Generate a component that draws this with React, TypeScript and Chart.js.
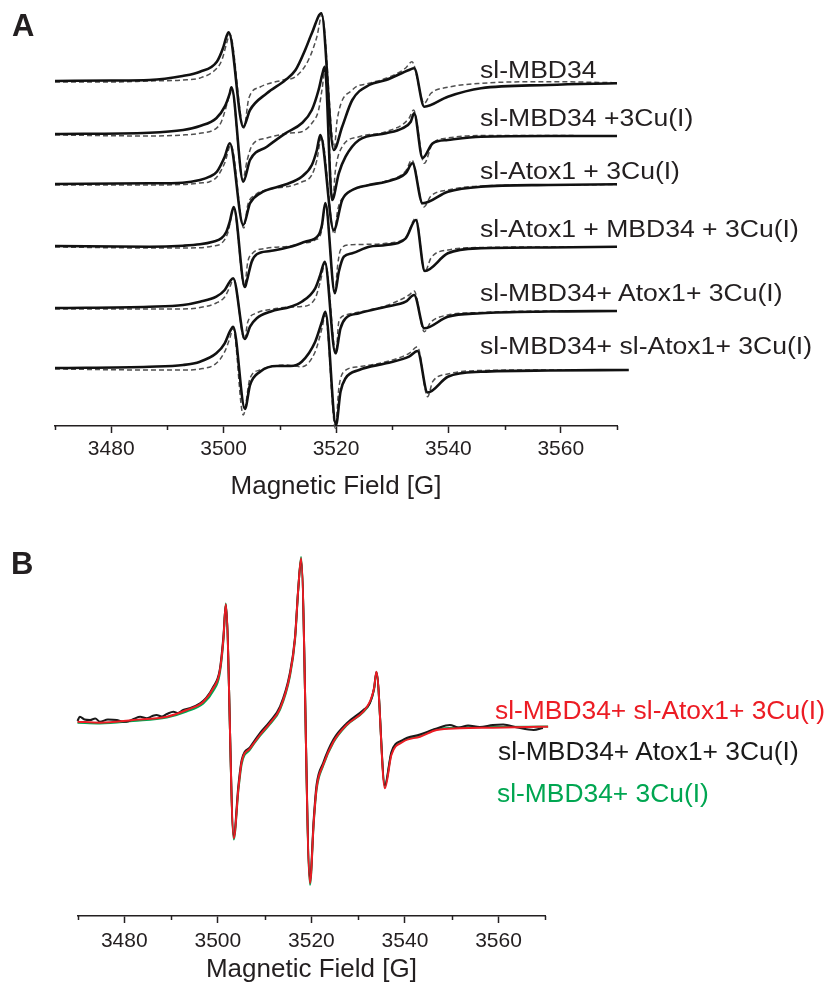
import React, { useEffect, useRef } from 'react';
import { Chart, registerables } from 'chart.js';

Chart.register(...registerables);

const FONT = "'Liberation Sans', Arial, Helvetica, sans-serif";
const INK = '#231f20';

// ---- shared field axis ----
const FIELD_MIN = 3470;
const FIELD_MAX = 3570;
const FIELD_STEP = 10;
const FIELD_LABEL_STEP = 20;
const AXIS_TITLE = 'Magnetic Field [G]';

// ---- Panel A: six stacked spectra (solid = experiment, dashed = simulation) ----
const A_LABELS = [
  'sl-MBD34',
  'sl-MBD34 +3Cu(I)',
  'sl-Atox1 + 3Cu(I)',
  'sl-Atox1 + MBD34 + 3Cu(I)',
  'sl-MBD34+ Atox1+ 3Cu(I)',
  'sl-MBD34+ sl-Atox1+ 3Cu(I)',
];
const A_OFFSETS = [345, 292, 242, 180, 118, 58];

const A1_EXP = [[3470,0],[3480,0.5],[3486.8,1],[3492.7,5],[3495.8,9.3],[3498.8,19.3],[3499.9,33],[3500.5,44.3],[3500.9,48.7],[3503.5,-45.7],[3504.7,-29],[3507.7,-12.3],[3511.0,1],[3512.8,11],[3514.5,31],[3515.7,47.7],[3517.4,67.7],[3519.6,-69],[3521.1,-45.7],[3522.9,-19],[3525.9,-4],[3528.9,1],[3533.0,11],[3533.9,12.7],[3535.7,-25.7],[3539.9,-15.7],[3545.8,-7.3],[3557.8,-4],[3570,-2.3]];
const A1_SIM = [[3470,-1],[3480,-1],[3486.8,0],[3492.7,1],[3495.8,3],[3498.8,12.7],[3499.7,21],[3500.6,39],[3501.1,47],[3503.6,-47],[3504.5,-17],[3506.5,-6],[3510.6,1],[3512.8,4.3],[3515.1,21],[3516.6,44.3],[3517.5,66],[3519.7,-67],[3520.2,-39],[3522.9,-9],[3525.9,-2.3],[3528.9,2.7],[3532.4,13],[3533.5,19.3],[3535.7,-22.3],[3536.9,-12.3],[3539.9,-6.3],[3545.8,-2.3],[3557.8,-0.7],[3570,-1.7]];

const A2_EXP = [[3470,0],[3486.8,1.3],[3492.8,4],[3495.8,8],[3498.7,15.7],[3500.2,27.3],[3501.1,40.7],[3501.4,46.7],[3503.5,-47.7],[3504.7,-26],[3507.7,-12.7],[3511.0,0.7],[3513.9,10.7],[3515.7,24],[3516.9,44],[3517.6,60.7],[3518.0,67.3],[3519.3,-66],[3520.5,-39.3],[3521.7,-22.7],[3524.1,-6],[3528.9,0.7],[3531.8,5.7],[3533.3,12.3],[3533.9,20.7],[3535.4,-24],[3537.2,-9.3],[3539.9,-6],[3545.8,-2.7],[3557.8,-2],[3570,-2]];
const A2_SIM = [[3470,-1],[3486.8,-2],[3492.7,-1],[3495.8,0.7],[3498.7,5.7],[3499.6,12.3],[3500.8,34],[3501.4,46],[3503.4,-46],[3504.2,-26],[3505.1,-11],[3507.7,-4],[3511.9,1],[3513.9,2.3],[3515.7,10.7],[3516.9,24],[3517.5,44],[3518.1,65.7],[3519.4,-66],[3519.9,-36],[3521.1,-12.7],[3524.1,-2.7],[3528.9,2.3],[3533.0,15.7],[3533.8,24],[3535.7,-29.3],[3537.2,-9.3],[3539.9,-4],[3545.8,-1.5],[3557.8,-1.5],[3570,-2]];

const A3_EXP = [[3470,0],[3486.8,0.7],[3492.7,1.3],[3495.8,4],[3497.5,7.3],[3498.8,12.3],[3500.2,27.3],[3501.1,40.7],[3503.5,-41],[3504.7,-19.3],[3506.5,-9.3],[3511.0,-0.5],[3513.9,7.3],[3515.7,19],[3516.6,34],[3517.2,49],[3519.6,-46],[3521.1,-16],[3522.9,-6],[3525.9,-1],[3528.9,2.3],[3532.4,10.7],[3533.6,20.7],[3535.4,-19.3],[3539.9,-7.7],[3545.8,-2.7],[3557.8,-1],[3570,-0.3]];
const A3_SIM = [[3470,-1],[3486.8,-1],[3492.7,-0.5],[3495.8,1],[3497.5,2.3],[3498.8,7],[3500.2,21],[3501.3,39],[3503.6,-44],[3504.3,-21],[3505.6,-11],[3508.3,-5],[3511.9,-2],[3513.9,2],[3515.7,9],[3516.6,24],[3517.4,47],[3519.7,-50],[3520.3,-26],[3521.7,-11],[3524.4,-3],[3528.9,3],[3532.4,13],[3533.5,24],[3535.6,-23],[3536.9,-12],[3539.9,-6],[3545.8,-2],[3557.8,-1],[3570,-0.5]];

const A4_EXP = [[3470,0],[3486.8,-0.7],[3492.8,0.3],[3495.8,1.7],[3498.1,4.3],[3499.6,7.7],[3500.5,14.3],[3501.1,24.3],[3501.8,39],[3503.8,-41],[3504.1,-35.7],[3505.0,-15.7],[3505.9,-8.3],[3508.3,-5],[3511.9,-0.7],[3514.5,4.3],[3516.9,11],[3517.5,21],[3518.1,43],[3519.8,-47.3],[3520.5,-25.7],[3521.4,-10.7],[3522.9,-7.3],[3525.9,-0.7],[3528.9,1],[3532.4,7.7],[3534.2,26],[3535.8,-25],[3539.9,-7.3],[3545.8,-2.3],[3557.8,-1.5],[3570,-0.7]];
const A4_SIM = [[3470,-1],[3486.8,-2],[3492.7,-2],[3495.8,-1.7],[3498.1,0],[3499.7,3],[3500.8,14],[3501.8,38],[3503.7,-41],[3504.3,-16],[3505.2,-7],[3507.4,-2.5],[3511.9,0],[3513.9,2.7],[3516.3,6],[3517.4,14.3],[3518.1,42],[3519.8,-46],[3520.3,-19],[3520.8,-4],[3522.3,1],[3525.9,1.7],[3528.9,2.7],[3532.4,8.3],[3534.2,28],[3535.8,-26],[3536.9,-12],[3539.9,-4],[3545.8,-1.5],[3557.8,-1],[3570,-0.7]];

const A5_EXP = [[3470,0],[3486.8,1.3],[3492.8,3],[3495.8,6.3],[3498.7,11.3],[3500.2,18],[3501.1,26.3],[3501.7,29.7],[3503.8,-31],[3504.7,-18.7],[3505.9,-10.3],[3508.3,-3.7],[3511.9,1.3],[3513.9,6.3],[3516.3,19.7],[3517.2,33],[3518.0,46.3],[3519.9,-45.3],[3520.8,-20.3],[3521.7,-10.3],[3524.1,-5.3],[3528.9,1.3],[3532.4,6.3],[3533.9,13],[3535.7,-20.3],[3539.9,-8.7],[3545.8,-5.3],[3557.8,-3.5],[3570,-3]];
const A5_SIM = [[3470,-1],[3486.8,-1],[3492.7,-1],[3495.8,0.5],[3498.7,5],[3500.2,11],[3501.1,21],[3501.8,29],[3503.7,-32],[3504.3,-14],[3505.9,-5],[3508.3,-1.5],[3511.9,1],[3513.9,1.5],[3516.3,9.7],[3517.2,26.3],[3518.1,45],[3520.0,-45],[3520.5,-13.7],[3521.7,-7],[3525.9,-2],[3528.9,2.3],[3533.0,13],[3533.9,17],[3535.7,-23.7],[3536.9,-14],[3539.9,-7],[3545.8,-4.5],[3557.8,-3],[3570,-3]];

const A6_EXP = [[3470,0],[3486.8,1.3],[3492.8,3],[3495.8,6.3],[3498.7,14.7],[3500.2,24.7],[3501.1,36.3],[3501.7,41.3],[3503.8,-41],[3504.7,-17],[3506.5,-3.7],[3509.5,2],[3511.9,2],[3513.9,6.3],[3516.3,26.3],[3517.5,46.3],[3518.1,56.3],[3520.0,-57],[3520.8,-23.7],[3521.7,-10.3],[3524.1,-2],[3528.9,4.7],[3533.0,11.3],[3534.5,17],[3536.3,-24.5],[3539.9,-8.7],[3545.8,-3.7],[3557.8,-2.5],[3572.1,-2]];
const A6_SIM = [[3470,-1],[3486.8,-2],[3492.8,-2],[3495.8,-1],[3498.7,4.7],[3500.2,16.3],[3501.1,29.7],[3501.7,39.7],[3503.5,-47],[3504.7,-10.3],[3506.5,-2],[3510.7,3],[3513.9,1.3],[3516.3,16.3],[3517.5,39.7],[3518.1,53],[3519.9,-60.3],[3520.5,-20.3],[3521.4,-3.7],[3524.1,1.3],[3528.9,6.3],[3533.0,14.7],[3534.5,21.3],[3536.3,-28.7],[3537.2,-13.7],[3539.9,-6],[3545.8,-2.5],[3557.8,-2],[3572.1,-2]];

const A_EXP = [A1_EXP, A2_EXP, A3_EXP, A4_EXP, A5_EXP, A6_EXP];
const A_SIM = [A1_SIM, A2_SIM, A3_SIM, A4_SIM, A5_SIM, A6_SIM];

// ---- Panel B: three overlaid spectra ----
const B_LABELS = ['sl-MBD34+ sl-Atox1+ 3Cu(I)', 'sl-MBD34+ Atox1+ 3Cu(I)', 'sl-MBD34+ 3Cu(I)'];
const B_COLORS = ['#ec1c24', '#1a1a1a', '#00a651'];
const B_OFFSET = 194;

const B_RED = [[3470,0.3],[3474.8,-0.7],[3481.9,2],[3489.1,5.3],[3493.3,12],[3496.9,20.3],[3499.0,33.7],[3500.4,50.3],[3501.2,83.7],[3501.7,117.7],[3503.4,-116.3],[3504.4,-66.3],[3505.1,-39.7],[3506.9,-26.3],[3509.0,-13],[3511.1,-1.3],[3513.3,13.7],[3515.4,47],[3516.5,83.7],[3517.2,133.7],[3517.8,163.7],[3519.7,-161.3],[3520.5,-99.7],[3521.1,-66.3],[3522.5,-43],[3524.7,-19.7],[3527.5,-3],[3531.1,10.3],[3532.5,20.3],[3533.4,33.7],[3533.9,50.3],[3535.7,-66.3],[3537.1,-33],[3539.5,-20],[3543.2,-14.7],[3546.8,-8],[3551.7,-6.3],[3558.8,-5.7],[3570.6,-4.7]];
const B_BLACK = [[3470,1],[3470.5,5.3],[3471.5,2.5],[3472.7,2],[3473.8,3.5],[3474.8,0.3],[3476.5,2.5],[3478.4,2],[3479.5,0.5],[3480.5,0.3],[3482,3],[3483.4,5.3],[3484.8,3.7],[3486,6],[3486.9,7],[3488,5.5],[3489.1,8],[3490.5,10.3],[3491.5,9],[3492.6,12],[3494.0,13.7],[3496.2,18.7],[3497.5,24],[3499.0,35],[3500.4,52],[3501.2,86],[3501.7,117],[3503.4,-114],[3504.4,-63],[3505.1,-38],[3506.9,-25],[3509.0,-11],[3511.1,0.5],[3513.3,15.5],[3515.4,49],[3516.5,85],[3517.2,134],[3517.8,162],[3519.7,-158],[3520.5,-97],[3521.1,-63],[3522.5,-41],[3524.7,-17.5],[3527.5,-1.5],[3531.1,12],[3532.5,19],[3533.4,34],[3533.9,50],[3535.7,-63],[3537.1,-30],[3539.5,-18],[3543.2,-12.5],[3546.8,-6.5],[3549.6,-3],[3551.5,-5.5],[3553.5,-3.5],[3556,-5],[3558.8,-3],[3561,-2.5],[3564,-5.5],[3567.5,-8],[3569.5,-6]];
const B_GREEN = [[3470,-0.8],[3474.8,-1.5],[3481.9,1],[3489.1,4.5],[3493.3,10.5],[3496.9,18.5],[3499.0,31],[3500.4,48],[3501.2,82],[3501.7,118.5],[3503.4,-117.5],[3504.4,-68],[3505.1,-42],[3506.9,-27.5],[3509.0,-14],[3511.1,-2.5],[3513.3,12.5],[3515.4,45.5],[3516.5,82],[3517.2,133],[3517.8,165],[3519.7,-163],[3520.5,-101],[3521.1,-68],[3522.5,-44],[3524.7,-20.5],[3527.5,-3.5],[3531.1,10],[3532.5,19],[3533.4,32.5],[3533.9,49],[3535.7,-64],[3537.1,-31.5],[3539.5,-19],[3543.2,-13.5],[3546.8,-7],[3551.7,-5.5],[3558.8,-5],[3570.6,-4.5]];
const B_SERIES = [B_RED, B_BLACK, B_GREEN];

// ---- helpers ----
const toPts = (arr: number[][], off: number) => arr.map(([x, y]) => ({ x, y: y + off }));

const minorTicks = {
  id: 'minorTicks',
  afterDraw(chart: any) {
    const s = chart.scales.x;
    const ctx = chart.ctx;
    ctx.save();
    ctx.strokeStyle = INK;
    ctx.lineWidth = 1.5;
    s.ticks.forEach((t: any) => {
      if (t.value % FIELD_LABEL_STEP !== 0) {
        const px = Math.round(s.getPixelForValue(t.value)) + 0.5;
        ctx.beginPath();
        ctx.moveTo(px, s.top);
        ctx.lineTo(px, s.top + 4);
        ctx.stroke();
      }
    });
    ctx.restore();
  },
};

function xScale(axisHeight: number, tickSize: number, tickPad: number, titleSize: number, titlePad: number) {
  return {
    type: 'linear',
    position: 'bottom',
    min: FIELD_MIN,
    max: FIELD_MAX,
    afterFit: (s: any) => { s.height = axisHeight; },
    ticks: {
      stepSize: FIELD_STEP,
      autoSkip: false,
      maxRotation: 0,
      padding: tickPad,
      color: INK,
      font: { family: FONT, size: tickSize },
      callback: (v: number) => (v % FIELD_LABEL_STEP === 0 ? String(v) : ''),
    },
    grid: {
      drawOnChartArea: false,
      drawTicks: true,
      tickLength: 7,
      tickWidth: 1.5,
      tickColor: (c: any) => (c.tick && c.tick.value % FIELD_LABEL_STEP === 0 ? INK : 'rgba(0,0,0,0)'),
    },
    border: { display: true, color: INK, width: 1.5 },
    title: {
      display: true,
      text: AXIS_TITLE,
      color: INK,
      font: { family: FONT, size: titleSize },
      padding: { top: 0, bottom: titlePad },
    },
  };
}

function PanelA() {
  const ref = useRef<HTMLCanvasElement>(null);
  useEffect(() => {
    const datasets: any[] = [];
    A_EXP.forEach((d, i) => {
      datasets.push({
        data: toPts(d, A_OFFSETS[i]),
        borderColor: '#111111',
        borderWidth: 2.6,
        pointRadius: 0,
        cubicInterpolationMode: 'monotone',
        fill: false,
        clip: false,
      });
    });
    A_SIM.forEach((d, i) => {
      datasets.push({
        data: toPts(d, A_OFFSETS[i]),
        borderColor: '#505050',
        borderWidth: 1.5,
        borderDash: [5, 3],
        pointRadius: 0,
        cubicInterpolationMode: 'monotone',
        fill: false,
        clip: false,
      });
    });
    const chart = new Chart(ref.current as HTMLCanvasElement, {
      type: 'line',
      data: { datasets },
      options: {
        animation: false,
        responsive: false,
        maintainAspectRatio: false,
        events: [],
        layout: { padding: { left: 55, right: 213, top: 0, bottom: 0 } },
        plugins: { legend: { display: false }, tooltip: { enabled: false } },
        scales: {
          x: xScale(79, 21, 3.4, 26, 3) as any,
          y: { display: false, min: 0, max: 426 },
        },
      },
      plugins: [minorTicks],
    } as any);
    return () => chart.destroy();
  }, []);
  return (
    <canvas ref={ref} width={830} height={505}
      style={{ position: 'absolute', left: 0, top: 0, width: 830, height: 505 }} />
  );
}

function PanelB() {
  const ref = useRef<HTMLCanvasElement>(null);
  useEffect(() => {
    const datasets = B_SERIES.map((d, i) => ({
      data: toPts(d, B_OFFSET),
      borderColor: B_COLORS[i],
      borderWidth: 2,
      pointRadius: 0,
      cubicInterpolationMode: 'monotone',
      fill: false,
      clip: false,
    }));
    const chart = new Chart(ref.current as HTMLCanvasElement, {
      type: 'line',
      data: { datasets },
      options: {
        animation: false,
        responsive: false,
        maintainAspectRatio: false,
        events: [],
        layout: { padding: { left: 77.5, right: 284.7, top: 0, bottom: 0 } },
        plugins: { legend: { display: false }, tooltip: { enabled: false } },
        scales: {
          x: xScale(71, 21, 6.1, 26, 2) as any,
          y: { display: false, min: 0, max: 376 },
        },
      },
      plugins: [minorTicks],
    } as any);
    return () => chart.destroy();
  }, []);
  return (
    <canvas ref={ref} width={830} height={447}
      style={{ position: 'absolute', left: 0, top: 540, width: 830, height: 447 }} />
  );
}

const A_LABEL_TOPS = [59, 106.8, 160.2, 217.5, 281.8, 335.2];
const B_LABEL_TOPS = [696.9, 737.9, 780];
const B_LABEL_LEFTS = [495, 498, 497];

export default function App() {
  const txt = (extra: React.CSSProperties): React.CSSProperties => ({
    position: 'absolute',
    whiteSpace: 'nowrap',
    fontFamily: FONT,
    color: INK,
    ...extra,
  });
  return (
    <div style={{ position: 'absolute', left: 0, top: 0, width: 830, height: 987, background: '#ffffff', overflow: 'hidden' }}>
      <PanelA />
      <PanelB />
      <div style={txt({ left: 12, top: 10.4, fontSize: 31, lineHeight: '31px', fontWeight: 'bold' })}>A</div>
      <div style={txt({ left: 11, top: 548.3, fontSize: 31, lineHeight: '31px', fontWeight: 'bold' })}>B</div>
      {A_LABELS.map((t, i) => (
        <div key={t} style={txt({
          left: 480, top: A_LABEL_TOPS[i], fontSize: 23.5, lineHeight: '23.5px',
          transform: 'scaleX(1.13)', transformOrigin: '0 50%',
        })}>{t}</div>
      ))}
      {B_LABELS.map((t, i) => (
        <div key={t} style={txt({
          left: B_LABEL_LEFTS[i], top: B_LABEL_TOPS[i], fontSize: 26.4, lineHeight: '26.4px', color: B_COLORS[i],
        })}>{t}</div>
      ))}
    </div>
  );
}
